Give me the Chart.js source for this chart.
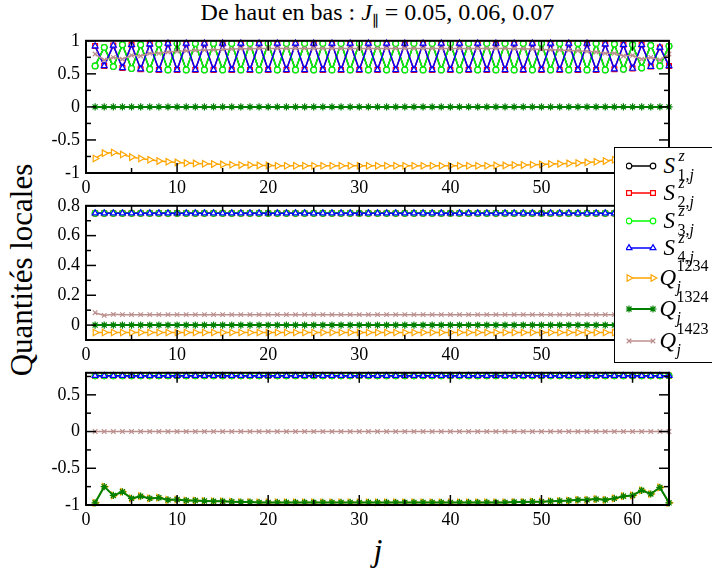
<!DOCTYPE html>
<html><head><meta charset="utf-8">
<script src="https://cdn.jsdelivr.net/npm/chart.js@4.4.0/dist/chart.umd.min.js"></script>
<style>
html,body{margin:0;padding:0;background:#fff;}
body{width:712px;height:574px;overflow:hidden;position:relative;font-family:'Liberation Serif','DejaVu Serif','Noto Serif','Times New Roman',serif;color:#000;}
canvas.p{position:absolute;left:0;}
#title{position:absolute;left:86px;width:583px;top:-2px;text-align:center;font-size:24px;line-height:28px;white-space:nowrap;}
#ylab{position:absolute;left:-128px;width:300px;top:253px;line-height:34px;text-align:center;font-size:31px;transform:rotate(-90deg);white-space:nowrap;}
#xlab{position:absolute;left:278px;width:200px;top:532px;line-height:36px;text-align:center;font-size:32px;font-style:italic;}
#legend{position:absolute;left:614px;top:147px;width:120px;height:216px;border:1.5px solid #000;background:#fff;box-sizing:border-box;}
#legend canvas{position:absolute;}
#legend span{position:absolute;white-space:nowrap;}
.base{font-size:23px;line-height:23px;font-style:italic;}
.ss{font-size:16px;line-height:16px;}
</style>
</head><body>
<div id="title">De haut en bas : <i>J</i><sub style="font-size:15px">∥</sub> = 0.05, 0.06, 0.07</div>
<div id="ylab">Quantités locales</div>
<div id="xlab">j</div>
<canvas class="p" id="c1"></canvas>
<canvas class="p" id="c2"></canvas>
<canvas class="p" id="c3"></canvas>
<div id="legend"></div>
<script>
// ---------- data ----------
const jIndex = [1,2,3,4,5,6,7,8,
9,10,11,12,13,14,15,16,
17,18,19,20,21,22,23,24,
25,26,27,28,29,30,31,32,
33,34,35,36,37,38,39,40,
41,42,43,44,45,46,47,48,
49,50,51,52,53,54,55,56,
57,58,59,60,61,62,63,64];

const xTickValues = [0,10,20,30,40,50,60];
const xMinorValues = [5,15,25,35,45,55];
const yTicks1 = [-1,-0.5,0,0.5,1];
const yMinor1 = [-0.75,-0.25,0.25,0.75];
const yTicks2 = [0,0.2,0.4,0.6,0.8];
const yMinor2 = [0.1,0.3,0.5,0.7];
const yTicks3 = [-1,-0.5,0,0.5];
const yMinor3 = [-0.75,-0.25,0.25,0.75];

const seriesNames = ['S1z','S2z','S3z','S4z','Q1234','Q1324','Q1423'];
const legendBase = ['S','S','S','S','Q','Q','Q'];
const legendSup = ['<i>z</i>','<i>z</i>','<i>z</i>','<i>z</i>','1234','1324','1423'];
const legendSub = ['1,<i>j</i>','2,<i>j</i>','3,<i>j</i>','4,<i>j</i>','<i>j</i>','<i>j</i>','<i>j</i>'];

// Panel 1 : J = 0.05
const S1_a = [0.62,0.90,0.61,0.94,0.58,0.94,0.57,0.95,
0.56,0.96,0.56,0.96,0.56,0.96,0.56,0.96,
0.56,0.96,0.56,0.96,0.56,0.96,0.56,0.96,
0.56,0.96,0.56,0.96,0.56,0.96,0.56,0.96,
0.56,0.96,0.56,0.96,0.56,0.96,0.56,0.96,
0.56,0.96,0.56,0.96,0.56,0.96,0.56,0.96,
0.56,0.96,0.56,0.96,0.56,0.96,0.56,0.96,
0.56,0.95,0.57,0.94,0.59,0.93,0.62,0.92];
const S2_a = [0.92,0.62,0.93,0.59,0.94,0.57,0.95,0.56,
0.96,0.56,0.96,0.56,0.96,0.56,0.96,0.56,
0.96,0.56,0.96,0.56,0.96,0.56,0.96,0.56,
0.96,0.56,0.96,0.56,0.96,0.56,0.96,0.56,
0.96,0.56,0.96,0.56,0.96,0.56,0.96,0.56,
0.96,0.56,0.96,0.56,0.96,0.56,0.96,0.56,
0.96,0.56,0.96,0.56,0.96,0.56,0.96,0.56,
0.95,0.57,0.94,0.58,0.94,0.61,0.90,0.62];
const S3_a = [0.62,0.90,0.61,0.94,0.58,0.94,0.57,0.95,
0.56,0.96,0.56,0.96,0.56,0.96,0.56,0.96,
0.56,0.96,0.56,0.96,0.56,0.96,0.56,0.96,
0.56,0.96,0.56,0.96,0.56,0.96,0.56,0.96,
0.56,0.96,0.56,0.96,0.56,0.96,0.56,0.96,
0.56,0.96,0.56,0.96,0.56,0.96,0.56,0.96,
0.56,0.96,0.56,0.96,0.56,0.96,0.56,0.96,
0.56,0.95,0.57,0.94,0.59,0.93,0.62,0.92];
const S4_a = [0.92,0.62,0.93,0.59,0.94,0.57,0.95,0.56,
0.96,0.56,0.96,0.56,0.96,0.56,0.96,0.56,
0.96,0.56,0.96,0.56,0.96,0.56,0.96,0.56,
0.96,0.56,0.96,0.56,0.96,0.56,0.96,0.56,
0.96,0.56,0.96,0.56,0.96,0.56,0.96,0.56,
0.96,0.56,0.96,0.56,0.96,0.56,0.96,0.56,
0.96,0.56,0.96,0.56,0.96,0.56,0.96,0.56,
0.95,0.57,0.94,0.58,0.94,0.61,0.90,0.62];
const Q1234_a = [-0.78,-0.70,-0.69,-0.72,-0.76,-0.78,-0.80,-0.82,
-0.83,-0.84,-0.85,-0.855,-0.86,-0.865,-0.87,-0.875,
-0.88,-0.88,-0.885,-0.885,-0.89,-0.89,-0.89,-0.89,
-0.89,-0.89,-0.89,-0.89,-0.89,-0.89,-0.89,-0.89,
-0.89,-0.89,-0.89,-0.89,-0.89,-0.89,-0.89,-0.89,
-0.89,-0.89,-0.89,-0.89,-0.885,-0.885,-0.88,-0.88,
-0.875,-0.87,-0.865,-0.86,-0.855,-0.85,-0.84,-0.83,
-0.82,-0.80,-0.78,-0.76,-0.72,-0.69,-0.70,-0.78];
const Q1324_a = [0,0,0,0,0,0,0,0,
0,0,0,0,0,0,0,0,
0,0,0,0,0,0,0,0,
0,0,0,0,0,0,0,0,
0,0,0,0,0,0,0,0,
0,0,0,0,0,0,0,0,
0,0,0,0,0,0,0,0,
0,0,0,0,0,0,0,0];
const Q1423_a = [0.80,0.71,0.75,0.72,0.78,0.77,0.81,0.81,
0.83,0.84,0.85,0.855,0.86,0.865,0.87,0.875,
0.88,0.88,0.885,0.885,0.885,0.885,0.885,0.885,
0.885,0.885,0.885,0.885,0.885,0.885,0.885,0.885,
0.885,0.885,0.885,0.885,0.885,0.885,0.885,0.885,
0.885,0.885,0.885,0.885,0.885,0.885,0.88,0.88,
0.875,0.87,0.865,0.86,0.855,0.85,0.84,0.83,
0.81,0.81,0.77,0.78,0.72,0.75,0.71,0.80];

// Panel 2 : J = 0.06
const S1_b = [0.75,0.75,0.75,0.75,0.75,0.75,0.75,0.75,
0.75,0.75,0.75,0.75,0.75,0.75,0.75,0.75,
0.75,0.75,0.75,0.75,0.75,0.75,0.75,0.75,
0.75,0.75,0.75,0.75,0.75,0.75,0.75,0.75,
0.75,0.75,0.75,0.75,0.75,0.75,0.75,0.75,
0.75,0.75,0.75,0.75,0.75,0.75,0.75,0.75,
0.75,0.75,0.75,0.75,0.75,0.75,0.75,0.75,
0.75,0.75,0.75,0.75,0.75,0.75,0.75,0.75];
const S2_b = [0.75,0.75,0.75,0.75,0.75,0.75,0.75,0.75,
0.75,0.75,0.75,0.75,0.75,0.75,0.75,0.75,
0.75,0.75,0.75,0.75,0.75,0.75,0.75,0.75,
0.75,0.75,0.75,0.75,0.75,0.75,0.75,0.75,
0.75,0.75,0.75,0.75,0.75,0.75,0.75,0.75,
0.75,0.75,0.75,0.75,0.75,0.75,0.75,0.75,
0.75,0.75,0.75,0.75,0.75,0.75,0.75,0.75,
0.75,0.75,0.75,0.75,0.75,0.75,0.75,0.75];
const S3_b = [0.75,0.75,0.75,0.75,0.75,0.75,0.75,0.75,
0.75,0.75,0.75,0.75,0.75,0.75,0.75,0.75,
0.75,0.75,0.75,0.75,0.75,0.75,0.75,0.75,
0.75,0.75,0.75,0.75,0.75,0.75,0.75,0.75,
0.75,0.75,0.75,0.75,0.75,0.75,0.75,0.75,
0.75,0.75,0.75,0.75,0.75,0.75,0.75,0.75,
0.75,0.75,0.75,0.75,0.75,0.75,0.75,0.75,
0.75,0.75,0.75,0.75,0.75,0.75,0.75,0.75];
const S4_b = [0.75,0.75,0.75,0.75,0.75,0.75,0.75,0.75,
0.75,0.75,0.75,0.75,0.75,0.75,0.75,0.75,
0.75,0.75,0.75,0.75,0.75,0.75,0.75,0.75,
0.75,0.75,0.75,0.75,0.75,0.75,0.75,0.75,
0.75,0.75,0.75,0.75,0.75,0.75,0.75,0.75,
0.75,0.75,0.75,0.75,0.75,0.75,0.75,0.75,
0.75,0.75,0.75,0.75,0.75,0.75,0.75,0.75,
0.75,0.75,0.75,0.75,0.75,0.75,0.75,0.75];
const Q1234_b = [-0.05,-0.05,-0.05,-0.05,-0.05,-0.05,-0.05,-0.05,
-0.05,-0.05,-0.05,-0.05,-0.05,-0.05,-0.05,-0.05,
-0.05,-0.05,-0.05,-0.05,-0.05,-0.05,-0.05,-0.05,
-0.05,-0.05,-0.05,-0.05,-0.05,-0.05,-0.05,-0.05,
-0.05,-0.05,-0.05,-0.05,-0.05,-0.05,-0.05,-0.05,
-0.05,-0.05,-0.05,-0.05,-0.05,-0.05,-0.05,-0.05,
-0.05,-0.05,-0.05,-0.05,-0.05,-0.05,-0.05,-0.05,
-0.05,-0.05,-0.05,-0.05,-0.05,-0.05,-0.05,-0.05];
const Q1324_b = [0,0,0,0,0,0,0,0,
0,0,0,0,0,0,0,0,
0,0,0,0,0,0,0,0,
0,0,0,0,0,0,0,0,
0,0,0,0,0,0,0,0,
0,0,0,0,0,0,0,0,
0,0,0,0,0,0,0,0,
0,0,0,0,0,0,0,0];
const Q1423_b = [0.083,0.065,0.072,0.07,0.07,0.07,0.07,0.07,
0.07,0.07,0.07,0.07,0.07,0.07,0.07,0.07,
0.07,0.07,0.07,0.07,0.07,0.07,0.07,0.07,
0.07,0.07,0.07,0.07,0.07,0.07,0.07,0.07,
0.07,0.07,0.07,0.07,0.07,0.07,0.07,0.07,
0.07,0.07,0.07,0.07,0.07,0.07,0.07,0.07,
0.07,0.07,0.07,0.07,0.07,0.07,0.07,0.07,
0.07,0.07,0.07,0.07,0.07,0.072,0.065,0.083];

// Panel 3 : J = 0.07
const S1_c = [0.76,0.76,0.76,0.76,0.76,0.76,0.76,0.76,
0.76,0.76,0.76,0.76,0.76,0.76,0.76,0.76,
0.76,0.76,0.76,0.76,0.76,0.76,0.76,0.76,
0.76,0.76,0.76,0.76,0.76,0.76,0.76,0.76,
0.76,0.76,0.76,0.76,0.76,0.76,0.76,0.76,
0.76,0.76,0.76,0.76,0.76,0.76,0.76,0.76,
0.76,0.76,0.76,0.76,0.76,0.76,0.76,0.76,
0.76,0.76,0.76,0.76,0.76,0.76,0.76,0.76];
const S2_c = [0.76,0.76,0.76,0.76,0.76,0.76,0.76,0.76,
0.76,0.76,0.76,0.76,0.76,0.76,0.76,0.76,
0.76,0.76,0.76,0.76,0.76,0.76,0.76,0.76,
0.76,0.76,0.76,0.76,0.76,0.76,0.76,0.76,
0.76,0.76,0.76,0.76,0.76,0.76,0.76,0.76,
0.76,0.76,0.76,0.76,0.76,0.76,0.76,0.76,
0.76,0.76,0.76,0.76,0.76,0.76,0.76,0.76,
0.76,0.76,0.76,0.76,0.76,0.76,0.76,0.76];
const S3_c = [0.76,0.76,0.76,0.76,0.76,0.76,0.76,0.76,
0.76,0.76,0.76,0.76,0.76,0.76,0.76,0.76,
0.76,0.76,0.76,0.76,0.76,0.76,0.76,0.76,
0.76,0.76,0.76,0.76,0.76,0.76,0.76,0.76,
0.76,0.76,0.76,0.76,0.76,0.76,0.76,0.76,
0.76,0.76,0.76,0.76,0.76,0.76,0.76,0.76,
0.76,0.76,0.76,0.76,0.76,0.76,0.76,0.76,
0.76,0.76,0.76,0.76,0.76,0.76,0.76,0.76];
const S4_c = [0.76,0.76,0.76,0.76,0.76,0.76,0.76,0.76,
0.76,0.76,0.76,0.76,0.76,0.76,0.76,0.76,
0.76,0.76,0.76,0.76,0.76,0.76,0.76,0.76,
0.76,0.76,0.76,0.76,0.76,0.76,0.76,0.76,
0.76,0.76,0.76,0.76,0.76,0.76,0.76,0.76,
0.76,0.76,0.76,0.76,0.76,0.76,0.76,0.76,
0.76,0.76,0.76,0.76,0.76,0.76,0.76,0.76,
0.76,0.76,0.76,0.76,0.76,0.76,0.76,0.76];
const Q1234_c = [-0.97,-0.75,-0.87,-0.82,-0.91,-0.88,-0.91,-0.90,
-0.93,-0.925,-0.94,-0.94,-0.945,-0.95,-0.95,-0.955,
-0.96,-0.96,-0.965,-0.965,-0.965,-0.965,-0.965,-0.965,
-0.965,-0.965,-0.965,-0.965,-0.965,-0.965,-0.965,-0.965,
-0.965,-0.965,-0.965,-0.965,-0.965,-0.965,-0.965,-0.965,
-0.965,-0.965,-0.965,-0.965,-0.965,-0.965,-0.96,-0.96,
-0.955,-0.955,-0.95,-0.945,-0.94,-0.93,-0.93,-0.92,
-0.93,-0.91,-0.88,-0.87,-0.80,-0.85,-0.76,-0.97];
const Q1324_c = [-0.97,-0.75,-0.87,-0.82,-0.91,-0.88,-0.91,-0.90,
-0.93,-0.925,-0.94,-0.94,-0.945,-0.95,-0.95,-0.955,
-0.96,-0.96,-0.965,-0.965,-0.965,-0.965,-0.965,-0.965,
-0.965,-0.965,-0.965,-0.965,-0.965,-0.965,-0.965,-0.965,
-0.965,-0.965,-0.965,-0.965,-0.965,-0.965,-0.965,-0.965,
-0.965,-0.965,-0.965,-0.965,-0.965,-0.965,-0.96,-0.96,
-0.955,-0.955,-0.95,-0.945,-0.94,-0.93,-0.93,-0.92,
-0.93,-0.91,-0.88,-0.87,-0.80,-0.85,-0.76,-0.97];
const Q1423_c = [0,0,0,0,0,0,0,0,
0,0,0,0,0,0,0,0,
0,0,0,0,0,0,0,0,
0,0,0,0,0,0,0,0,
0,0,0,0,0,0,0,0,
0,0,0,0,0,0,0,0,
0,0,0,0,0,0,0,0,
0,0,0,0,0,0,0,0];

// ---------- styles ----------
const seriesColors = ['#000000','#ff0000','#00ff00','#0000ff','#ffa500','#008000','#bc8f8f'];
const seriesPointStyles = ['circle','rect','circle','triangle','triangle','star','crossRot'];
const seriesPointRadius = [2.8,3.4,2.8,3.4,3.8,3.6,3.2];
const seriesPointRotation = [0,0,0,0,90,0,0];
const seriesLineWidth = [1.5,1.5,1.5,1.5,1.5,2,1.5];
const legendRowY = [166,193,221,248,278,309,341];

Chart.defaults.font.family = "'Liberation Serif','DejaVu Serif','Noto Serif','Times New Roman',serif";
Chart.defaults.font.size = 18;
Chart.defaults.color = '#000';

const framePlugin = {
  id: 'frame',
  afterDatasetsDraw(chart, args, o) {
    const ctx = chart.ctx;
    const {left, right, top, bottom} = chart.chartArea;
    const xs = chart.scales.x, ys = chart.scales.y;
    ctx.save();
    ctx.strokeStyle = '#000';
    ctx.lineWidth = 1.5;
    const seg = (x1,y1,x2,y2) => {ctx.beginPath();ctx.moveTo(x1,y1);ctx.lineTo(x2,y2);ctx.stroke();};
    o.xMajor.forEach(v => {const p = xs.getPixelForValue(v); seg(p,bottom,p,bottom-10); seg(p,top,p,top+10);});
    o.xMinor.forEach(v => {const p = xs.getPixelForValue(v); seg(p,bottom,p,bottom-5); seg(p,top,p,top+5);});
    o.yMajor.forEach(v => {const p = ys.getPixelForValue(v); seg(left,p,left+10,p); seg(right,p,right-10,p);});
    o.yMinor.forEach(v => {const p = ys.getPixelForValue(v); seg(left,p,left+5,p); seg(right,p,right-5,p);});
    ctx.lineWidth = 2;
    ctx.strokeRect(left, top, right-left, bottom-top);
    ctx.restore();
  }
};

const panels = [
  {id:'c1', top:36, bottom:173, ymin:-1, ymax:1, yt:yTicks1, ym:yMinor1,
   series:[S1_a,S2_a,S3_a,S4_a,Q1234_a,Q1324_a,Q1423_a]},
  {id:'c2', top:201, bottom:340, ymin:-0.1, ymax:0.8, yt:yTicks2, ym:yMinor2,
   series:[S1_b,S2_b,S3_b,S4_b,Q1234_b,Q1324_b,Q1423_b]},
  {id:'c3', top:368, bottom:505, ymin:-1, ymax:0.8, yt:yTicks3, ym:yMinor3,
   series:[S1_c,S2_c,S3_c,S4_c,Q1234_c,Q1324_c,Q1423_c]}
];

const PAD_TOP = 12, XAXIS_H = 28;
panels.forEach(p => {
  const cv = document.getElementById(p.id);
  cv.width = 712;
  cv.height = (p.bottom - p.top) + PAD_TOP + XAXIS_H;
  cv.style.top = (p.top - PAD_TOP) + 'px';
  new Chart(cv, {
    type: 'line',
    data: {
      datasets: p.series.map((d, i) => ({
        label: seriesNames[i],
        data: d.map((v, k) => ({x: jIndex[k], y: v})),
        borderColor: seriesColors[i],
        backgroundColor: seriesColors[i],
        borderWidth: seriesLineWidth[i],
        pointStyle: seriesPointStyles[i],
        pointRadius: seriesPointRadius[i],
        pointRotation: seriesPointRotation[i],
        pointBorderColor: seriesColors[i],
        pointBackgroundColor: '#ffffff',
        pointBorderWidth: 1.2,
        tension: 0,
        clip: 10,
        order: 10 - i
      }))
    },
    options: {
      responsive: false, animation: false, devicePixelRatio: 1,
      layout: {padding: {top: PAD_TOP, right: 43, left: 0, bottom: 0}},
      plugins: {
        legend: {display: false}, tooltip: {enabled: false},
        frame: {xMajor: xTickValues, xMinor: xMinorValues, yMajor: p.yt, yMinor: p.ym}
      },
      scales: {
        x: {
          type: 'linear', min: 0, max: 64,
          grid: {display: false, drawTicks: false}, border: {display: false},
          afterBuildTicks: s => { s.ticks = xTickValues.map(v => ({value: v})); },
          afterFit: s => { s.height = XAXIS_H; },
          ticks: {padding: 4, maxRotation: 0, autoSkip: false, callback: v => String(v)}
        },
        y: {
          type: 'linear', min: p.ymin, max: p.ymax,
          grid: {display: false, drawTicks: false}, border: {display: false},
          afterBuildTicks: s => { s.ticks = p.yt.map(v => ({value: v})); },
          afterFit: s => { s.width = 86; },
          ticks: {padding: 6, autoSkip: false, callback: v => String(v)}
        }
      }
    },
    plugins: [framePlugin]
  });
});

// ---------- legend ----------
const lg = document.getElementById('legend');
const LX = 614 + 1.5, LY = 147 + 1.5;
seriesNames.forEach((name, i) => {
  const cy = legendRowY[i];
  const c = document.createElement('canvas');
  c.width = 36; c.height = 14;
  c.style.left = (626 - LX) + 'px';
  c.style.top = (cy - 7 - LY) + 'px';
  lg.appendChild(c);
  const ctx = c.getContext('2d');
  ctx.strokeStyle = seriesColors[i];
  ctx.lineWidth = seriesLineWidth[i];
  ctx.beginPath(); ctx.moveTo(3, 7); ctx.lineTo(27, 7); ctx.stroke();
  [3, 27].forEach(x => {
    ctx.fillStyle = '#ffffff';
    ctx.strokeStyle = seriesColors[i];
    ctx.lineWidth = 1.2;
    if (Chart.helpers && Chart.helpers.drawPoint) {
      Chart.helpers.drawPoint(ctx, {pointStyle: seriesPointStyles[i], radius: seriesPointRadius[i], rotation: seriesPointRotation[i], borderWidth: 1.2}, x, 7);
    } else {
      ctx.beginPath(); ctx.arc(x, 7, seriesPointRadius[i], 0, Math.PI*2); ctx.fill(); ctx.stroke();
    }
  });
  const isS = legendBase[i] === 'S';
  const b = document.createElement('span');
  b.className = 'base';
  b.textContent = legendBase[i];
  b.style.left = ((isS ? 664 : 660) - LX) + 'px';
  b.style.top = (cy - 12 - LY) + 'px';
  lg.appendChild(b);
  const sp = document.createElement('span');
  sp.className = 'ss';
  sp.innerHTML = legendSup[i];
  sp.style.left = ((isS ? 679 : 677) - LX) + 'px';
  sp.style.top = (cy - (isS ? 18 : 20) - LY) + 'px';
  lg.appendChild(sp);
  const sb = document.createElement('span');
  sb.className = 'ss';
  sb.innerHTML = legendSub[i];
  sb.style.left = ((isS ? 678 : 677) - LX) + 'px';
  sb.style.top = (cy + 1 - LY) + 'px';
  lg.appendChild(sb);
});
</script>
</body></html>
